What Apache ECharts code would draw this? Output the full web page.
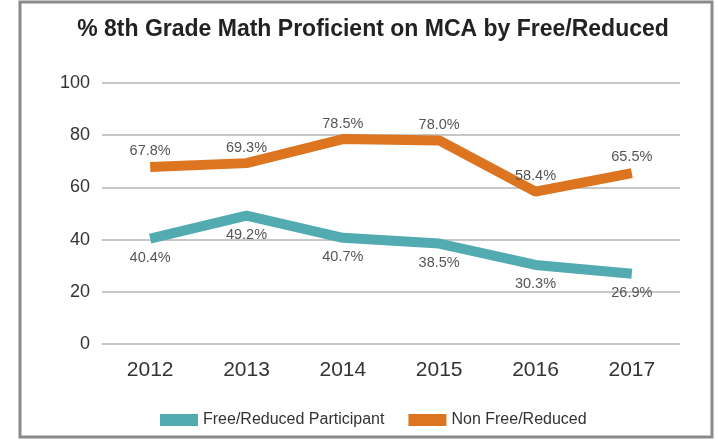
<!DOCTYPE html>
<html>
<head>
<meta charset="utf-8">
<script src="https://cdn.jsdelivr.net/npm/echarts@6/dist/echarts.min.js"></script>
<style>
  html, body { margin: 0; padding: 0; background: #fff; }
  #chart { width: 718px; height: 441px; }
</style>
</head>
<body>
<div id="chart"></div>
<script>
const 年份 = ["2012", "2013", "2014", "2015", "2016", "2017"];
const 减免参与者 = [40.4, 49.2, 40.7, 38.5, 30.3, 26.9];
const 非减免 = [67.8, 69.3, 78.5, 78.0, 58.4, 65.5];
const 刻度 = [0, 20, 40, 60, 80, 100];

const 青色 = "#52abb1";
const 橙色 = "#dd741f";
const 字体 = "Liberation Sans, Arial, sans-serif";

const myChart = echarts.init(document.getElementById("chart"));

// 折线上的百分比标签
function 百分比标签(位置, 距离) {
  return {
    show: true,
    position: 位置,
    distance: 距离,
    formatter: (p) => p.value.toFixed(1) + "%",
    fontFamily: 字体,
    fontSize: 14.5,
    color: "#555",
  };
}

const option = {
  backgroundColor: "#fff",
  animation: false,
  title: {
    text: "% 8th Grade Math Proficient on MCA by Free/Reduced",
    left: 368,
    textAlign: "center",
    top: 13,
    textStyle: { fontFamily: 字体, fontSize: 23, fontWeight: "bold", color: "#222" },
  },
  graphic: [
    {
      type: "rect",
      shape: { x: 20, y: 2, width: 692, height: 435 },
      style: { fill: "none", stroke: "#8a8a8a", lineWidth: 3 },
      silent: true,
    },
  ],
  legend: {
    top: 407,
    left: 155,
    itemWidth: 38,
    itemHeight: 12,
    itemGap: 24,
    icon: "rect",
    textStyle: { fontFamily: 字体, fontSize: 16, color: "#333" },
    data: ["Free/Reduced Participant", "Non Free/Reduced"],
  },
  grid: { left: 102, right: 38, top: 83, bottom: 97 },
  xAxis: {
    type: "category",
    data: 年份,
    axisLine: { show: false },
    axisTick: { show: false },
    axisLabel: { fontFamily: 字体, fontSize: 21, color: "#333", margin: 16 },
  },
  yAxis: {
    type: "value",
    min: 刻度[0],
    max: 刻度[刻度.length - 1],
    interval: 20,
    axisLine: { show: false },
    axisTick: { show: false },
    axisLabel: { fontFamily: 字体, fontSize: 18, color: "#333", margin: 12 },
    splitLine: { lineStyle: { color: "#b5b5b5", width: 1.5 } },
  },
  series: [
    {
      name: "Free/Reduced Participant",
      type: "line",
      data: 减免参与者,
      symbol: "circle",
      symbolSize: 0.1,
      showSymbol: true,
      lineStyle: { color: 青色, width: 10 },
      itemStyle: { color: 青色 },
      label: 百分比标签("bottom", 12),
    },
    {
      name: "Non Free/Reduced",
      type: "line",
      data: 非减免,
      symbol: "circle",
      symbolSize: 0.1,
      showSymbol: true,
      lineStyle: { color: 橙色, width: 10 },
      itemStyle: { color: 橙色 },
      label: 百分比标签("top", 8),
    },
  ],
};

myChart.setOption(option);
</script>
</body>
</html>
